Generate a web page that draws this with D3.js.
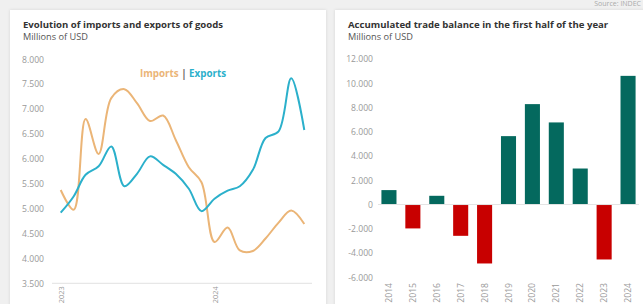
<!DOCTYPE html>
<html>
<head>
<meta charset="utf-8">
<script src="https://cdn.jsdelivr.net/npm/d3@7"></script>
<style>
  body { margin: 0; background: #eeeeee; font-family: "Open Sans", sans-serif; }
  svg { display: block; }
</style>
</head>
<body>
<script>
// monthly trade of goods, millions of USD
var months = ["2023-01", "2023-02", "2023-03", "2023-04", "2023-05", "2023-06", "2023-07",
    "2023-08", "2023-09", "2023-10", "2023-11", "2023-12", "2024-01", "2024-02", "2024-03",
    "2024-04", "2024-05", "2024-06", "2024-07", "2024-08"];
var imports = [5374, 4980, 6800, 6100, 7220, 7400, 7120, 6760, 6870, 6380,
    5830, 5530, 4330, 4620, 4160, 4150, 4400, 4720, 4960, 4690];
var exports = [4918, 5250, 5680, 5850, 6250, 5450, 5700, 6050, 5880, 5700,
    5400, 4950, 5200, 5360, 5450, 5780, 6420, 6550, 7620, 6580];

// accumulated trade balance, first half of each year
var years = ["2014", "2015", "2016", "2017", "2018", "2019", "2020", "2021", "2022", "2023", "2024"];
var balance = [1190, -1970, 720, -2580, -4860, 5640, 8280, 6770, 2970, -4530, 10610];

var leftTicks = [3500, 4000, 4500, 5000, 5500, 6000, 6500, 7000, 7500, 8000];
var rightTicks = [-6000, -4000, -2000, 0, 2000, 4000, 6000, 8000, 10000, 12000];

var width = 643,
    height = 304;

var es = d3.formatLocale({decimal: ",", thousands: ".", grouping: [3], currency: ["$", ""], minus: "-"});
var fmt = es.format(",d");
var parse = d3.timeParse("%Y-%m");

var svg = d3.select("body").append("svg")
    .attr("width", width)
    .attr("height", height);

var defs = svg.append("defs");
var shadow = defs.append("filter").attr("id", "shadow")
    .attr("x", "-5%").attr("y", "-5%").attr("width", "110%").attr("height", "110%");
shadow.append("feDropShadow")
    .attr("dx", 0).attr("dy", 0).attr("stdDeviation", 1.5)
    .attr("flood-color", "#000").attr("flood-opacity", 0.12);

svg.append("rect").attr("width", width).attr("height", height).attr("fill", "#f0f0f0");

svg.append("text")
    .attr("x", 641).attr("y", 6)
    .attr("text-anchor", "end")
    .attr("font-size", 7)
    .attr("fill", "#aaa")
    .text("Source: INDEC");

// cards
svg.append("rect").attr("x", 10).attr("y", 10).attr("width", 316).attr("height", 310)
    .attr("fill", "#fff").attr("filter", "url(#shadow)");
svg.append("rect").attr("x", 335).attr("y", 10).attr("width", 320).attr("height", 310)
    .attr("fill", "#fff").attr("filter", "url(#shadow)");

function titles(x, title, sub) {
    svg.append("text")
        .attr("x", x).attr("y", 28)
        .attr("font-size", 9.6)
        .attr("font-weight", "bold")
        .attr("fill", "#333")
        .text(title);
    svg.append("text")
        .attr("x", x).attr("y", 39.5)
        .attr("font-size", 9.2)
        .attr("fill", "#555")
        .text(sub);
}

titles(23, "Evolution of imports and exports of goods", "Millions of USD");
titles(348, "Accumulated trade balance in the first half of the year", "Millions of USD");

// ---- left chart: lines
var x = d3.scaleTime()
    .domain([parse("2023-01"), parse("2024-08")])
    .range([60.7, 304.3]);

var y = d3.scaleLinear()
    .domain([3500, 8000])
    .range([283.3, 59.3]);

var gl = svg.append("g");

gl.append("g")
    .attr("transform", "translate(47,0)")
    .call(d3.axisLeft(y).tickValues(leftTicks).tickSize(0).tickPadding(3).tickFormat(fmt))
    .call(function(g) { g.select(".domain").remove(); })
    .selectAll("text")
    .attr("font-family", "Open Sans")
    .attr("font-size", 8.6)
    .attr("fill", "#999");

gl.append("line")
    .attr("x1", 52).attr("x2", 312)
    .attr("y1", y(3500)).attr("y2", y(3500))
    .attr("stroke", "#e2e2e2");

gl.append("g")
    .attr("transform", "translate(0," + (y(3500) + 3) + ")")
    .call(d3.axisBottom(x).ticks(d3.timeYear.every(1)).tickSize(0).tickFormat(d3.timeFormat("%Y")))
    .call(function(g) { g.select(".domain").remove(); })
    .selectAll("text")
    .attr("font-family", "Open Sans")
    .attr("font-size", 7.4)
    .attr("fill", "#999")
    .attr("text-anchor", "end")
    .attr("transform", "rotate(-90)")
    .attr("x", 0).attr("y", 0).attr("dx", 0).attr("dy", "0.35em");

var line = d3.line()
    .x(function(d, i) { return x(parse(months[i])); })
    .y(function(d) { return y(d); })
    .curve(d3.curveCatmullRom.alpha(0.5));

gl.append("path")
    .datum(imports)
    .attr("d", line)
    .attr("fill", "none")
    .attr("stroke", "#ebb577")
    .attr("stroke-width", 2);

gl.append("path")
    .datum(exports)
    .attr("d", line)
    .attr("fill", "none")
    .attr("stroke", "#2bb0cb")
    .attr("stroke-width", 2);

var legend = gl.append("text")
    .attr("x", 183).attr("y", 76.5)
    .attr("text-anchor", "middle")
    .attr("font-size", 9.8)
    .attr("font-weight", "bold");
legend.append("tspan").attr("fill", "#ebb577").text("Imports");
legend.append("tspan").attr("fill", "#666").text(" | ");
legend.append("tspan").attr("fill", "#2bb0cb").text("Exports");

// ---- right chart: bars
var xb = d3.scaleBand()
    .domain(years)
    .range([377, 640])
    .paddingInner(0.37)
    .paddingOuter(0.185);

var yb = d3.scaleLinear()
    .domain([-6000, 12000])
    .range([277.3, 59]);

var gr = svg.append("g");

gr.append("g")
    .attr("transform", "translate(376,0)")
    .call(d3.axisLeft(yb).tickValues(rightTicks).tickSize(0).tickPadding(3).tickFormat(fmt))
    .call(function(g) { g.select(".domain").remove(); })
    .selectAll("text")
    .attr("font-family", "Open Sans")
    .attr("font-size", 8.6)
    .attr("fill", "#999");

gr.selectAll("rect.bar")
    .data(balance)
    .enter().append("rect")
    .attr("class", "bar")
    .attr("x", function(d, i) { return xb(years[i]); })
    .attr("width", xb.bandwidth())
    .attr("y", function(d) { return yb(Math.max(0, d)); })
    .attr("height", function(d) { return Math.abs(yb(d) - yb(0)); })
    .attr("fill", function(d) { return d >= 0 ? "#04695e" : "#c80000"; });

gr.append("line")
    .attr("x1", 378).attr("x2", 639)
    .attr("y1", yb(0)).attr("y2", yb(0))
    .attr("stroke", "#e4e4e4");

gr.append("g")
    .attr("transform", "translate(0,283)")
    .call(d3.axisBottom(xb).tickSize(0))
    .call(function(g) { g.select(".domain").remove(); })
    .selectAll("text")
    .attr("font-family", "Open Sans")
    .attr("font-size", 8.6)
    .attr("fill", "#999")
    .attr("text-anchor", "end")
    .attr("transform", "rotate(-90)")
    .attr("x", 0).attr("y", 0).attr("dx", 0).attr("dy", "0.35em");
</script>
</body>
</html>
